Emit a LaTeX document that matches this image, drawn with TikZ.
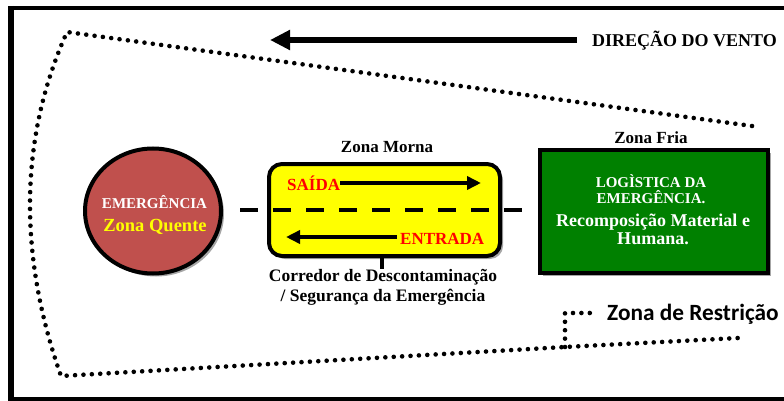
\documentclass[tikz,border=0pt]{standalone}
\usepackage{fontspec}
\setmainfont{Liberation Serif}
\newfontfamily\restrfont{Carlito}
\usetikzlibrary{shadows,arrows.meta,shapes.geometric}
\definecolor{brick}{RGB}{192,80,77}
\definecolor{friagreen}{RGB}{0,128,0}
\definecolor{mornayellow}{RGB}{255,255,0}
\definecolor{txtred}{RGB}{255,0,0}
\begin{document}
\begin{tikzpicture}[x=1pt,y=-1pt,
  lbl/.style={font=\bfseries\fontsize{17}{20}\selectfont, inner sep=0pt, anchor=base},
  dotline/.style={line width=4.6pt, line cap=round, dash pattern=on 0pt off 8.4pt},
  softshadow/.style={drop shadow={shadow xshift=3pt,shadow yshift=-3pt,fill=black,opacity=0.35}},
  hotzone/.style={ellipse, minimum width=136pt, minimum height=125pt, fill=brick, draw=black, line width=4pt, softshadow},
  warmzone/.style={rectangle, rounded corners=13pt, minimum width=231pt, minimum height=92pt, fill=mornayellow, draw=black, line width=4pt, softshadow},
  coldzone/.style={rectangle, minimum width=228pt, minimum height=123pt, fill=friagreen, draw=black, line width=4pt, softshadow},
  flowarrow/.style={line width=4.5pt, -{Triangle[length=14pt,width=13pt]}},
]
\useasboundingbox (0,0) rectangle (784,401);
% frame
\draw[line width=4pt] (784,8) -- (11,8) -- (11,399) -- (784,399);
\draw[line width=6pt] (11,6) -- (11,401);
% restriction zone boundary
\coordinate (tl) at (67,32);
\coordinate (tr) at (752,126);
\coordinate (bl) at (61,376);
\coordinate (bj) at (565,347);
\coordinate (br) at (738,338);
\coordinate (vj) at (565,313);
\coordinate (hj) at (598,313);
\draw[dotline] (tr) -- (tl) .. controls (14.7,148.3) and (22.6,267.4) .. (bl) -- (bj) -- (br);
\draw[dotline] (bj) -- (vj) -- (hj);
\node[font=\restrfont\bfseries\fontsize{23.3}{27}\selectfont, inner sep=0pt, anchor=base west] (restr) at (607,320) {Zona de Restrição};
% wind
\node[lbl, anchor=base west, font=\bfseries\fontsize{18}{21}\selectfont] (wind) at (592,47) {DIREÇÃO DO VENTO};
\coordinate (windtip) at (270,40);
\draw[line width=6pt, -{Triangle[length=20pt,width=19pt]}] ([xshift=-15pt,yshift=0pt]wind.west |- windtip) -- (windtip);
% zones
\node[hotzone] (hot) at (153,211) {};
\node[lbl, white, font=\bfseries\fontsize{15}{18}\selectfont] (emer) at (154.5,208.5) {EMERGÊNCIA};
\node[lbl, mornayellow, font=\bfseries\fontsize{18.5}{22}\selectfont] (quente) at (155,231) {Zona Quente};
\node[warmzone] (warm) at (384.5,210) {};
\node[coldzone] (cold) at (654,211.5) {};
% dashed separation line
\coordinate (dl) at (240,209.5);
\coordinate (dr) at (523,209.5);
\draw[line width=4pt, dash pattern=on 18pt off 15pt] (dl) -- (dr);
% flows inside warm zone
\node[lbl, txtred, anchor=base west] (saida) at (287,190) {SAÍDA};
\coordinate (saidaend) at (481,183);
\draw[flowarrow] (saida.east |- saidaend) -- (saidaend);
\node[lbl, txtred, anchor=base west] (entrada) at (400,244) {ENTRADA};
\coordinate (entradaend) at (286,237);
\draw[flowarrow] ([xshift=-3pt]entrada.west |- entradaend) -- (entradaend);
% labels
\node[lbl] (morna) at (387,153) {Zona Morna};
\node[lbl] (fria) at (651,143) {Zona Fria};
\coordinate (ticktop) at (382,258);
\node[lbl, align=center, anchor=north, font=\bfseries\fontsize{17.5}{20}\selectfont] (corr) at (383,269) {Corredor de Descontaminação\\/ Segurança da Emergência};
\draw[line width=4pt] (ticktop) -- (corr.north -| ticktop);
\node[lbl, white, align=center, font=\bfseries\fontsize{15}{16}\selectfont, anchor=base] (logi) at (651,203) {LOGÌSTICA DA\\EMERGÊNCIA.};
\node[lbl, white, align=center, font=\bfseries\fontsize{18}{18}\selectfont, anchor=base] (recomp) at (653,244) {Recomposição Material e\\Humana.};
\end{tikzpicture}
\end{document}
